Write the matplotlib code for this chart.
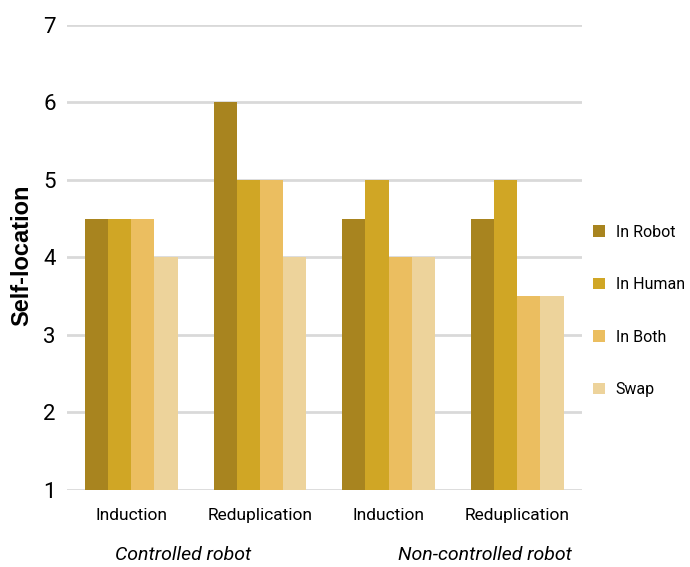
import matplotlib
matplotlib.use('Agg')
import matplotlib.pyplot as plt
import numpy as np

groups = ['Controlled robot', 'Non-controlled robot']
conditions = ['Induction', 'Reduplication', 'Induction', 'Reduplication']
series = ['In Robot', 'In Human', 'In Both', 'Swap']
in_robot = [4.5, 6, 4.5, 4.5]
in_human = [4.5, 5, 5, 5]
in_both = [4.5, 5, 4, 3.5]
swap = [4, 4, 4, 3.5]
colors = ['#A8841F', '#D0A625', '#EBBE60', '#EDD39B']

narrow = ['Roboto', 'DejaVu Sans']

fig = plt.figure(figsize=(6.9, 5.67), dpi=100)
ax = fig.add_axes([0.097, 0.136, 0.746, 0.82])

x = np.arange(len(conditions)) + 0.5
w = 0.18
for i, (vals, name) in enumerate(zip([in_robot, in_human, in_both, swap], series)):
    ax.bar(x + (i - 1.5) * w, np.array(vals) - 1, width=w, bottom=1,
           color=colors[i], label=name, zorder=3)

ax.set_xlim(0, 4)
ax.set_ylim(1, 7)
ax.set_yticks(range(1, 8))
ax.grid(axis='y', color='#D9D9D9', linewidth=2, zorder=0)
for s in ax.spines.values():
    s.set_visible(False)
ax.tick_params(length=0)
ax.set_xticks(x)
ax.set_xticklabels(conditions, family=narrow, fontsize=12.5)
for t in ax.get_yticklabels():
    t.set_family(narrow)
    t.set_fontsize(16)
ax.tick_params(axis='y', pad=8)
ax.tick_params(axis='x', pad=13)

fig.text(0.031, 0.55, 'Self-location', family=['Liberation Sans', 'DejaVu Sans'],
         fontweight='bold', fontsize=17, rotation=90, ha='center', va='center')

ax.text(0.9, -0.14, groups[0], transform=ax.get_xaxis_transform(),
        ha='center', va='center', style='italic', family=narrow, fontsize=14)
ax.text(3.25, -0.14, groups[1], transform=ax.get_xaxis_transform(),
        ha='center', va='center', style='italic', family=narrow, fontsize=14)

leg = ax.legend(loc='center left', bbox_to_anchor=(0.995, 0.385), frameon=False,
                prop={'family': narrow, 'size': 11.5}, labelspacing=2.35,
                handlelength=0.7, handleheight=0.7, handletextpad=0.7)

fig.savefig('out.png', dpi=100)
